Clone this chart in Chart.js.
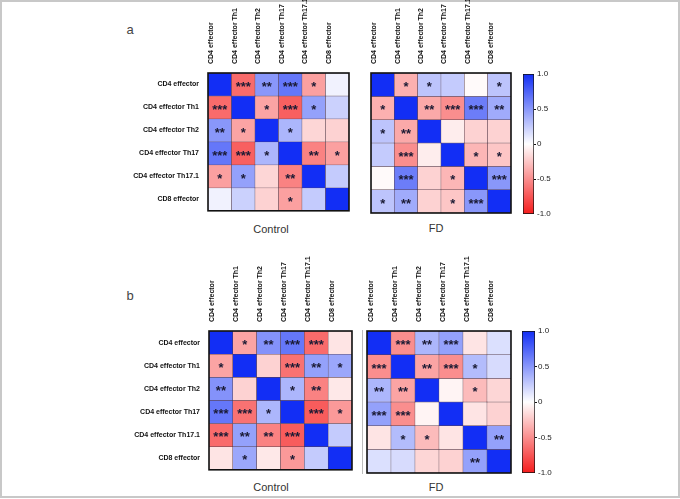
<!DOCTYPE html>
<html>
<head>
<meta charset="utf-8">
<script src="https://cdn.jsdelivr.net/npm/chart.js@4.4.1/dist/chart.umd.min.js"></script>
<style>
  body { margin: 0; background: #fff; }
  #fig { position: relative; width: 680px; height: 499px; font-family: "Liberation Sans", Arial, sans-serif; }
  .frame { position: absolute; left: 0; top: 0; width: 676px; height: 494px; border: 2px solid #c8c8c8; }
  .box { position: absolute; }
  .lbl { position: absolute; transform: translate(-50%, -50%); color: #333; white-space: nowrap; }
  .sep { position: absolute; width: 1px; background: #bdbdbd; }
</style>
</head>
<body>
<div id="fig">
  <div class="frame"></div>
  <div class="lbl" style="left:130px;top:29px;font-size:13px;color:#444">a</div>
  <div class="lbl" style="left:130px;top:295px;font-size:13px;color:#444">b</div>
  <div class="lbl" style="left:271px;top:229px;font-size:11px">Control</div>
  <div class="lbl" style="left:436px;top:228px;font-size:11px">FD</div>
  <div class="lbl" style="left:271px;top:487px;font-size:11px">Control</div>
  <div class="lbl" style="left:436px;top:487px;font-size:11px">FD</div>
  <div class="sep" style="left:362px;top:330px;height:144px"></div>

  <div class="box" id="boxCa"><canvas id="ctrlA"></canvas></div>
  <div class="box" id="boxFa"><canvas id="fdA"></canvas></div>
  <div class="box" id="boxBa"><canvas id="barA"></canvas></div>
  <div class="box" id="boxCb"><canvas id="ctrlB"></canvas></div>
  <div class="box" id="boxFb"><canvas id="fdB"></canvas></div>
  <div class="box" id="boxBb"><canvas id="barB"></canvas></div>
</div>

<script>
// cell types, same order for rows and columns
const cellTypes = ['CD4 effector', 'CD4 effector Th1', 'CD4 effector Th2',
  'CD4 effector Th17', 'CD4 effector Th17.1', 'CD8 effector'];

// panel a - correlation values
const controlA = [
  [ 1.00, -0.65,  0.50,  0.65, -0.42,  0.06],
  [-0.65,  1.00, -0.40, -0.70,  0.45,  0.22],
  [ 0.50, -0.40,  1.00,  0.35, -0.18, -0.20],
  [ 0.65, -0.70,  0.35,  1.00, -0.55, -0.42],
  [-0.42,  0.45, -0.18, -0.55,  1.00,  0.25],
  [ 0.06,  0.22, -0.20, -0.42,  0.25,  1.00]
];
const fdA = [
  [ 1.00, -0.35,  0.28,  0.25, -0.02,  0.28],
  [-0.35,  1.00, -0.38, -0.50,  0.62,  0.40],
  [ 0.28, -0.38,  1.00, -0.08, -0.20, -0.20],
  [ 0.25, -0.50, -0.08,  1.00, -0.32, -0.25],
  [-0.02,  0.62, -0.20, -0.32,  1.00,  0.50],
  [ 0.28,  0.40, -0.20, -0.25,  0.50,  1.00]
];
// panel b
const controlB = [
  [ 1.00, -0.40,  0.52,  0.65, -0.65, -0.12],
  [-0.40,  1.00, -0.20, -0.62,  0.45,  0.42],
  [ 0.52, -0.20,  1.00,  0.35, -0.55, -0.10],
  [ 0.65, -0.62,  0.35,  1.00, -0.72, -0.45],
  [-0.65,  0.45, -0.55, -0.72,  1.00,  0.25],
  [-0.12,  0.42, -0.10, -0.45,  0.25,  1.00]
];
const fdB = [
  [ 1.00, -0.50,  0.35,  0.45, -0.12,  0.15],
  [-0.50,  1.00, -0.40, -0.50,  0.32,  0.17],
  [ 0.35, -0.40,  1.00, -0.05, -0.30, -0.18],
  [ 0.45, -0.50, -0.05,  1.00, -0.12, -0.20],
  [-0.12,  0.32, -0.30, -0.12,  1.00,  0.45],
  [ 0.15,  0.17, -0.18, -0.20,  0.45,  1.00]
];

// significance marks
const starsControlA = [
  ['', '***', '**', '***', '*', ''],
  ['***', '', '*', '***', '*', ''],
  ['**', '*', '', '*', '', ''],
  ['***', '***', '*', '', '**', '*'],
  ['*', '*', '', '**', '', ''],
  ['', '', '', '*', '', '']
];
const starsFdA = [
  ['', '*', '*', '', '', '*'],
  ['*', '', '**', '***', '***', '**'],
  ['*', '**', '', '', '', ''],
  ['', '***', '', '', '*', '*'],
  ['', '***', '', '*', '', '***'],
  ['*', '**', '', '*', '***', '']
];
const starsControlB = [
  ['', '*', '**', '***', '***', ''],
  ['*', '', '', '***', '**', '*'],
  ['**', '', '', '*', '**', ''],
  ['***', '***', '*', '', '***', '*'],
  ['***', '**', '**', '***', '', ''],
  ['', '*', '', '*', '', '']
];
const starsFdB = [
  ['', '***', '**', '***', '', ''],
  ['***', '', '**', '***', '*', ''],
  ['**', '**', '', '', '*', ''],
  ['***', '***', '', '', '', ''],
  ['', '*', '*', '', '', '**'],
  ['', '', '', '', '**', '']
];

const scaleTicks = [-1, -0.5, 0, 0.5, 1];

const BLUE = [18, 46, 245];
const RED = [245, 28, 28];

function colorFor(v) {
  const c = v >= 0 ? BLUE : RED;
  const t = Math.min(Math.abs(v), 1);
  const mix = i => Math.round(255 + (c[i] - 255) * t);
  return `rgb(${mix(0)}, ${mix(1)}, ${mix(2)})`;
}

// frame + stars on top of the cells
const cellOverlay = {
  id: 'cellOverlay',
  afterDatasetsDraw(chart, args, opts) {
    const ctx = chart.ctx;
    const a = chart.chartArea;
    ctx.save();
    const fs = 13;
    ctx.font = `bold ${fs}px "Liberation Sans", Arial, sans-serif`;
    ctx.fillStyle = '#1a1a33';
    ctx.textAlign = 'center';
    ctx.textBaseline = 'alphabetic';
    opts.stars.forEach((row, r) => {
      const meta = chart.getDatasetMeta(r);
      row.forEach((s, c) => {
        if (!s) return;
        const el = meta.data[c];
        const cy = (el.y + el.base) / 2;
        ctx.fillText(s, el.x, cy + fs * 0.48);
      });
    });
    ctx.strokeStyle = '#111';
    ctx.lineWidth = 1.6;
    ctx.strokeRect(a.left, a.top, a.right - a.left, a.bottom - a.top);
    ctx.restore();
  }
};

function place(boxId, left, top, w, h) {
  const b = document.getElementById(boxId);
  b.style.left = left + 'px';
  b.style.top = top + 'px';
  b.style.width = w + 'px';
  b.style.height = h + 'px';
}

function heatmap(canvasId, boxId, matrix, stars, showRows, grid) {
  const W = showRows ? 80 : 0;
  const H = grid.axisH;
  place(boxId, grid.left - W - 2, grid.top - H, W + grid.w + 4, H + grid.h + 2);

  const datasets = matrix.map(row => ({
    data: row.map(() => 1),
    backgroundColor: row.map(colorFor),
    borderColor: 'rgba(70, 45, 60, 0.85)',
    borderWidth: 0.5,
    borderSkipped: false,
    barPercentage: 1,
    categoryPercentage: 1
  }));

  return new Chart(document.getElementById(canvasId), {
    type: 'bar',
    data: { labels: cellTypes, datasets },
    options: {
      responsive: true,
      maintainAspectRatio: false,
      animation: false,
      layout: { padding: { left: 2, right: 2, top: 0, bottom: 2 } },
      plugins: {
        legend: { display: false },
        tooltip: { enabled: false },
        cellOverlay: { stars }
      },
      scales: {
        x: {
          position: 'top',
          stacked: true,
          grid: { display: false },
          border: { display: false },
          ticks: {
            autoSkip: false,
            minRotation: 90,
            maxRotation: 90,
            padding: 1,
            color: '#111',
            font: { family: '"Liberation Sans", Arial, sans-serif', size: 7, weight: 'bold' }
          },
          afterFit: s => { s.height = H; }
        },
        y: {
          stacked: true,
          reverse: true,
          min: 0,
          max: 6,
          display: false
        },
        yl: {
          type: 'category',
          labels: cellTypes,
          offset: true,
          position: 'left',
          display: showRows,
          grid: { display: false },
          border: { display: false },
          ticks: {
            padding: 1,
            color: '#111',
            font: { family: '"Liberation Sans", Arial, sans-serif', size: 7, weight: 'bold' }
          },
          afterFit: s => { s.width = W; }
        }
      }
    },
    plugins: [cellOverlay]
  });
}

function colorBar(canvasId, boxId, bar) {
  const axisW = 30;
  place(boxId, bar.left, bar.top - 6, bar.w + axisW, bar.h + 12);
  return new Chart(document.getElementById(canvasId), {
    type: 'bar',
    data: {
      labels: [''],
      datasets: [{
        data: [[scaleTicks[0], scaleTicks[scaleTicks.length - 1]]],
        backgroundColor: ctx => {
          const area = ctx.chart.chartArea;
          if (!area) return '#fff';
          const g = ctx.chart.ctx.createLinearGradient(0, area.bottom, 0, area.top);
          g.addColorStop(0, colorFor(-1));
          g.addColorStop(0.5, colorFor(0));
          g.addColorStop(1, colorFor(1));
          return g;
        },
        borderColor: '#111',
        borderWidth: 1,
        borderSkipped: false,
        barPercentage: 1,
        categoryPercentage: 1
      }]
    },
    options: {
      responsive: true,
      maintainAspectRatio: false,
      animation: false,
      layout: { padding: { top: 6, bottom: 6, left: 0, right: 0 } },
      plugins: { legend: { display: false }, tooltip: { enabled: false } },
      scales: {
        x: { display: false },
        y: {
          position: 'right',
          min: -1,
          max: 1,
          border: { display: false },
          grid: {
            drawOnChartArea: false,
            tickLength: 2,
            color: c => (Math.abs(c.tick.value) === 1 ? 'rgba(0,0,0,0)' : '#111')
          },
          afterBuildTicks: s => { s.ticks = scaleTicks.map(v => ({ value: v })); },
          ticks: {
            padding: 1,
            color: '#222',
            font: { family: '"Liberation Sans", Arial, sans-serif', size: 8 },
            callback: v => (v === 0 ? '0' : v.toFixed(1))
          },
          afterFit: s => { s.width = axisW; }
        }
      }
    }
  });
}

heatmap('ctrlA', 'boxCa', controlA, starsControlA, true, { left: 208, top: 73, w: 141, h: 141, axisH: 73 });
heatmap('fdA', 'boxFa', fdA, starsFdA, false, { left: 371, top: 73, w: 140, h: 140, axisH: 73 });
colorBar('barA', 'boxBa', { left: 523, top: 74, w: 11, h: 140 });

heatmap('ctrlB', 'boxCb', controlB, starsControlB, true, { left: 209, top: 331, w: 143, h: 142, axisH: 75 });
heatmap('fdB', 'boxFb', fdB, starsFdB, false, { left: 367, top: 331, w: 144, h: 142, axisH: 75 });
colorBar('barB', 'boxBb', { left: 522, top: 331, w: 13, h: 142 });
</script>
</body>
</html>
